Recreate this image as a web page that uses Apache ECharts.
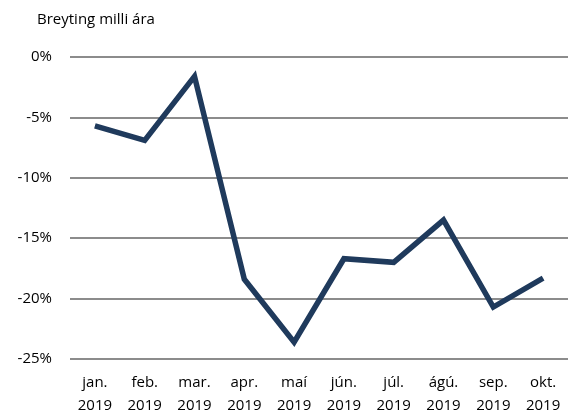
<!DOCTYPE html>
<html>
<head>
<meta charset="utf-8">
<script src="https://cdn.jsdelivr.net/npm/echarts@6/dist/echarts.min.js"></script>
<style>
  html, body { margin: 0; padding: 0; background: #fff; }
  #chart { width: 576px; height: 417px; }
</style>
</head>
<body>
<div id="chart"></div>
<script>
// gögn
var categories = ['jan.\n2019', 'feb.\n2019', 'mar.\n2019', 'apr.\n2019', 'maí\n2019',
  'jún.\n2019', 'júl.\n2019', 'ágú.\n2019', 'sep.\n2019', 'okt.\n2019'];
var values = [-5.7, -6.9, -1.6, -18.4, -23.6, -16.7, -17.0, -13.5, -20.7, -18.3];
var yTicks = [-25, -20, -15, -10, -5, 0];

var myChart = echarts.init(document.getElementById('chart'));
var font = 'Open Sans, Liberation Sans, sans-serif';

var option = {
  animation: false,
  title: {
    text: 'Breyting milli ára',
    left: 32,
    top: 7,
    textStyle: { fontFamily: font, fontSize: 15, fontWeight: 'normal', color: '#000' }
  },
  grid: { left: 70, right: 8, top: 57, bottom: 57 },
  xAxis: {
    type: 'category',
    data: categories,
    boundaryGap: true,
    axisLine: { show: false },
    axisTick: { show: false },
    axisLabel: { color: '#000', fontFamily: font, fontSize: 15, lineHeight: 23, margin: 12, interval: 0 }
  },
  yAxis: {
    type: 'value',
    min: yTicks[0],
    max: yTicks[yTicks.length - 1],
    interval: 5,
    axisLine: { show: false },
    axisTick: { show: false },
    splitLine: { lineStyle: { color: '#8c8c8c', width: 2 } },
    axisLabel: {
      color: '#000', fontFamily: font, fontSize: 15, margin: 18,
      formatter: function (v) { return v + '%'; }
    }
  },
  series: [{
    type: 'line',
    data: values,
    symbol: 'none',
    lineStyle: { color: '#1f3a5c', width: 5.5, join: 'miter' },
    itemStyle: { color: '#1f3a5c' }
  }]
};

myChart.setOption(option);
</script>
</body>
</html>
